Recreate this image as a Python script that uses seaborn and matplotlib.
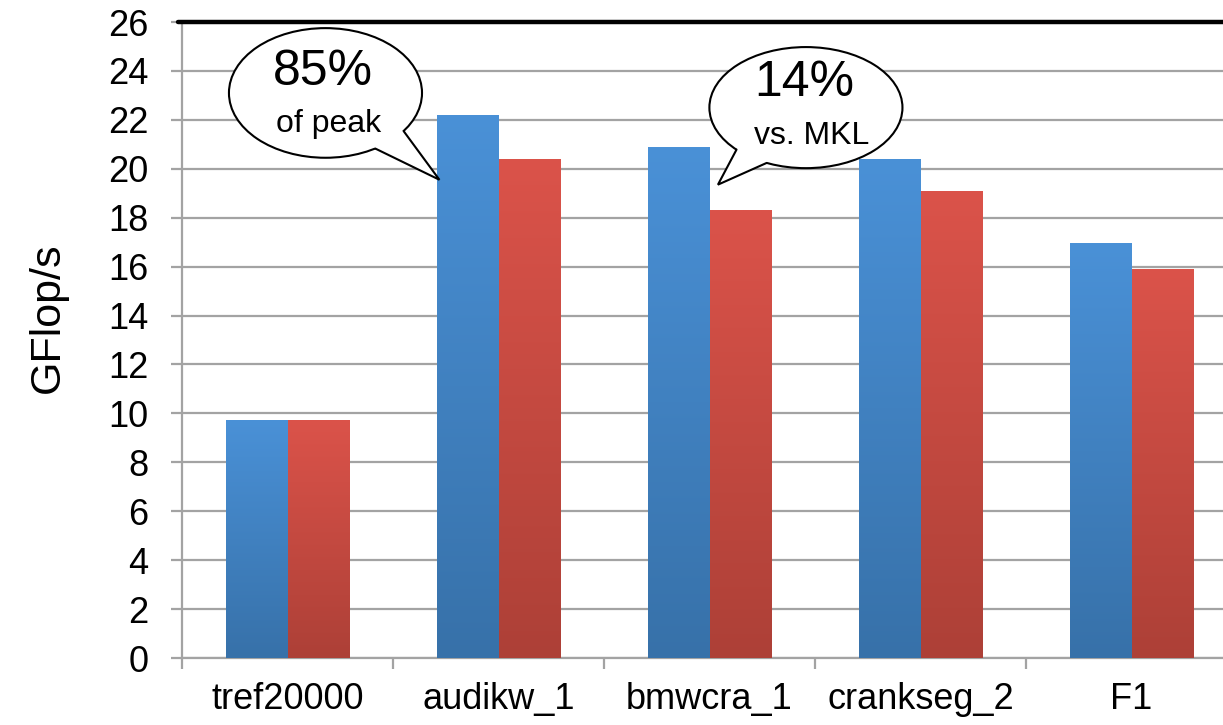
import numpy as np
import pandas as pd
import matplotlib
matplotlib.use("Agg")
import matplotlib.pyplot as plt
import seaborn as sns
from matplotlib.patches import Ellipse, Polygon
from matplotlib.colors import LinearSegmentedColormap

# ---- data ----
matrices = ["tref20000", "audikw_1", "bmwcra_1", "crankseg_2", "F1"]
ours = [9.75, 22.2, 20.9, 20.4, 16.95]
mkl = [9.75, 20.4, 18.3, 19.1, 15.9]
series = ["Ours", "MKL"]
yticks = list(range(0, 27, 2))

df = pd.DataFrame({
    "matrix": matrices * 2,
    "gflops": ours + mkl,
    "impl": [series[0]] * len(matrices) + [series[1]] * len(matrices),
})

sns.set_theme(style="white")
plt.rcParams["font.family"] = ["Liberation Sans", "DejaVu Sans"]
plt.rcParams["text.color"] = "black"
plt.rcParams["axes.labelcolor"] = "black"

fig = plt.figure(figsize=(12.23, 7.25), dpi=100)
ax = fig.add_axes([182 / 1223, 67 / 725, 1055 / 1223, 636 / 725])

blue_top, blue_bot = "#4A91D7", "#3771A9"
red_top, red_bot = "#DB534A", "#AD4037"

sns.barplot(data=df, x="matrix", y="gflops", hue="impl", palette=[blue_top, red_top],
            width=0.58, gap=0, saturation=1, legend=False, ax=ax, zorder=3,
            linewidth=0, errorbar=None)

ax.set_ylim(0, 26)
ax.set_xlim(-0.5, len(matrices) - 0.5)

# gradient fill per bar
cmaps = {
    blue_top: LinearSegmentedColormap.from_list("b", [blue_bot, blue_top]),
    red_top: LinearSegmentedColormap.from_list("r", [red_bot, red_top]),
}
grad = np.linspace(0, 1, 256).reshape(-1, 1)
for p in list(ax.patches):
    x0, y0 = p.get_x(), p.get_y()
    w, h = p.get_width(), p.get_height()
    fc = matplotlib.colors.to_hex(p.get_facecolor()).upper()
    cm = cmaps[blue_top] if fc == blue_top.upper() else cmaps[red_top]
    sh = matplotlib.patches.Rectangle((x0 + 0.004, y0), w, h - 0.05, facecolor="#000000",
                                      alpha=0.08, zorder=2.5, linewidth=0)
    ax.add_patch(sh)
    im = ax.imshow(grad, extent=[x0, x0 + w, y0, y0 + h], origin="lower", cmap=cm,
                   aspect="auto", zorder=3.5)
    im.set_clip_path(p)

ax.set_xlim(-0.5, len(matrices) - 0.5)
ax.set_ylim(0, 26)

# grid & spines
grid_c = "#A3A3A3"
ax.set_yticks(yticks)
ax.yaxis.grid(True, color=grid_c, linewidth=1.6, zorder=0)
ax.xaxis.grid(False)
ax.set_axisbelow(True)
for s in ["top", "right"]:
    ax.spines[s].set_visible(False)
ax.spines["left"].set_color(grid_c)
ax.spines["left"].set_linewidth(1.6)
ax.spines["bottom"].set_color(grid_c)
ax.spines["bottom"].set_linewidth(1.6)

ax.tick_params(axis="y", which="major", length=8, width=1.6, color=grid_c,
               direction="out", pad=16, labelsize=26, labelcolor="black", left=True)
ax.set_xticks(range(len(matrices)))
ax.set_xticklabels(matrices)
ax.set_xticks(np.arange(-0.5, len(matrices) + 0.5, 1), minor=True)
ax.tick_params(axis="x", which="major", length=0, pad=17, labelsize=26, labelcolor="black")
ax.tick_params(axis="x", which="minor", length=8, width=1.6, color=grid_c,
               direction="out", bottom=True)

ax.set_xlabel("")
ax.set_ylabel("GFlop/s", fontsize=31)
ax.yaxis.set_label_coords(-0.108, 0.535)

# peak line
ax.axhline(26, xmin=-0.004, xmax=1, color="black", linewidth=3.2, zorder=5, clip_on=False)

# callouts
def callout(cx, cy, w, h, a1, a2, tip, lines):
    e = Ellipse((cx, cy), w, h, facecolor="white", edgecolor="black", linewidth=1.5, zorder=6)
    ax.add_patch(e)
    p1 = (cx + w / 2 * np.cos(np.radians(a1)), cy + h / 2 * np.sin(np.radians(a1)))
    p2 = (cx + w / 2 * np.cos(np.radians(a2)), cy + h / 2 * np.sin(np.radians(a2)))
    q1 = (cx + (p1[0] - cx) * 0.95, cy + (p1[1] - cy) * 0.95)
    q2 = (cx + (p2[0] - cx) * 0.95, cy + (p2[1] - cy) * 0.95)
    ax.add_patch(Polygon([q1, p1, tip, p2, q2], closed=True, facecolor="white",
                         edgecolor="none", zorder=6.5))
    ax.plot([p1[0], tip[0], p2[0]], [p1[1], tip[1], p2[1]], color="black",
            linewidth=1.5, zorder=7, solid_joinstyle="miter")
    for (tx, ty, txt, fs) in lines:
        ax.text(tx, ty, txt, ha="center", va="center", fontsize=fs, zorder=8, color="black")

callout(0.18, 23.1, 0.915, 5.3, -36, -59, (0.72, 19.55),
        [(0.17, 23.95, "85%", 36), (0.195, 21.85, "of peak", 23)])
callout(2.457, 22.5, 0.915, 4.95, -136, -114, (2.04, 19.35),
        [(2.45, 23.5, "14%", 36), (2.485, 21.35, "vs. MKL", 23)])

fig.savefig("out.png", dpi=100)
